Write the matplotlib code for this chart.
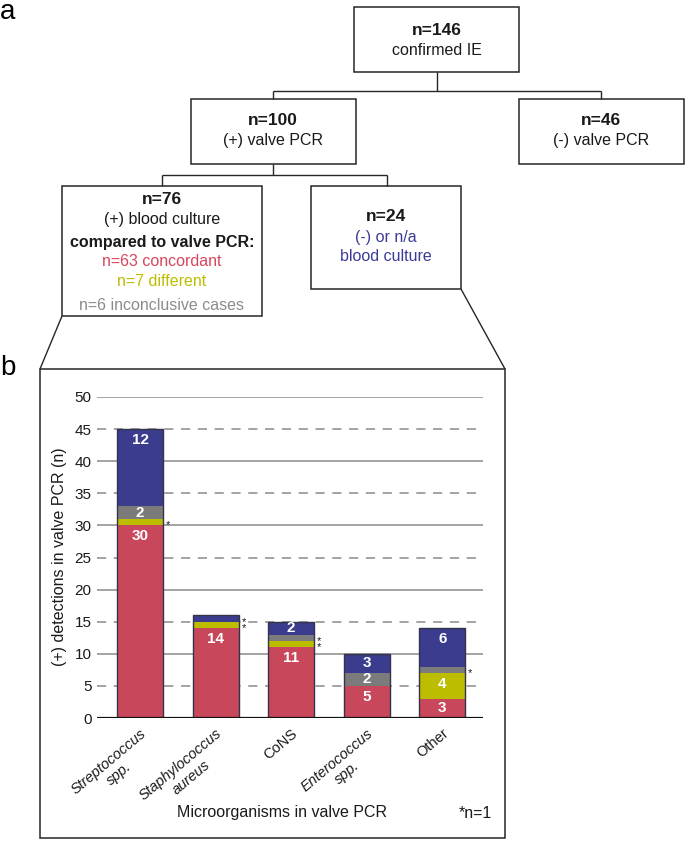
import numpy as np
import matplotlib.pyplot as plt
from matplotlib.patches import Rectangle

plt.rcParams['font.family'] = ['Liberation Sans', 'DejaVu Sans']

# panel b data
organisms = ['Streptococcus\nspp.', 'Staphylococcus\naureus', 'CoNS', 'Enterococcus\nspp.', 'Other']
italic = [True, True, False, True, False]
concordant = [30, 14, 11, 5, 3]
different = [1, 1, 1, 0, 4]
inconclusive = [2, 0, 1, 2, 1]
negative = [12, 1, 2, 3, 6]
colors = ['#C8475B', '#BDBD00', '#7B7B7B', '#3B3C8E']

# panel a counts
n_total = 146
n_pcr_pos = 100
n_pcr_neg = 46
n_bc_pos = 76
n_bc_neg = 24
n_concordant = 63
n_different = 7
n_inconclusive = 6

W, H = 685, 841
fig = plt.figure(figsize=(6.85, 8.41), dpi=100)

# overlay in pixel coordinates for the flow chart
ov = fig.add_axes([0, 0, 1, 1])
ov.set_xlim(0, W)
ov.set_ylim(H, 0)
ov.axis('off')

edge = '#262626'

def box(x0, y0, x1, y1, lw=1.1):
    ov.add_patch(Rectangle((x0, y0), x1 - x0, y1 - y0, fill=False, ec=edge, lw=lw))

def line(xs, ys):
    ov.plot(xs, ys, color=edge, lw=1.0, solid_capstyle='butt')

def txt(x, y, s, bold=False, color='#1a1a1a', size=11.5):
    ov.text(x, y, s, ha='center', va='center', fontsize=size,
            fontweight='bold' if bold else 'normal', color=color)

box(354, 7, 519, 72)
box(191, 99, 356, 164)
box(519, 99, 684, 164)
box(62, 186, 262, 316)
box(311, 186, 461, 289)

line([437, 437], [72, 91])
line([273, 601], [91, 91])
line([273, 273], [91, 99])
line([601, 601], [91, 99])
line([273, 273], [164, 175])
line([162, 387], [175, 175])
line([162, 162], [175, 186])
line([387, 387], [175, 186])

txt(437, 30, f'n={n_total}', bold=True, size=12.5)
txt(437, 50, 'confirmed IE')
txt(273, 120, f'n={n_pcr_pos}', bold=True, size=12.5)
txt(273, 140, '(+) valve PCR')
txt(601, 120, f'n={n_pcr_neg}', bold=True, size=12.5)
txt(601, 140, '(-) valve PCR')
txt(162, 199, f'n={n_bc_pos}', bold=True, size=12.5)
txt(162, 219, '(+) blood culture')
txt(162, 242, 'compared to valve PCR:', bold=True)
txt(162, 262, f'n={n_concordant} concordant', color='#D8465E')
txt(162, 282, f'n={n_different} different', color='#BDBD00')
txt(162, 305, f'n={n_inconclusive} inconclusive cases', color='#8C8C8C')
txt(386, 216, f'n={n_bc_neg}', bold=True, size=12.5)
txt(386, 237, '(-) or n/a', color='#3B3B96')
txt(386, 256, 'blood culture', color='#3B3B96')

# zoom lines and panel b frame
line([62, 40], [316, 369])
line([461, 505], [289, 369])
box(40, 369, 505, 838)

ov.text(0, 12, 'a', fontsize=20, ha='left', va='center')
ov.text(0, 368, 'b', fontsize=20, ha='left', va='center')

ov.text(60, 557, '(+) detections in valve PCR (n)', rotation=90, ha='center',
        va='center', fontsize=11.5, color='#1a1a1a')
ov.text(282, 813, 'Microorganisms in valve PCR', ha='center', va='center',
        fontsize=11.5, color='#1a1a1a')
ov.text(475, 813, '*n=1', ha='center', va='center', fontsize=11.5, color='#1a1a1a')

# bar chart
ax = fig.add_axes([97 / W, 1 - 718 / H, (483 - 97) / W, (718 - 397) / H])
ax.patch.set_alpha(0)
ax.set_ylim(0, 50)
ax.set_xlim(-0.57, 4.54)
for s in ax.spines.values():
    s.set_visible(False)

for v in range(5, 55, 5):
    if v % 10 == 0:
        ax.axhline(v, color='#8a8a8a', lw=1.1, zorder=0)
    else:
        ax.axhline(v, color='#8a8a8a', lw=1.1, zorder=0, ls=(0, (6, 5)))
ax.axhline(0, color='#111111', lw=1.6, zorder=4)

x = np.arange(len(organisms))
width = 0.61
series = [concordant, different, inconclusive, negative]
bottom = np.zeros(len(organisms))
for vals, c in zip(series, colors):
    vals = np.array(vals, dtype=float)
    ax.bar(x, vals, bottom=bottom, width=width, color=c, zorder=2, lw=0)
    for i, v in enumerate(vals):
        if v >= 2:
            y = max(bottom[i] + v / 2, bottom[i] + v - 1.7)
            ax.text(x[i], y, f'{int(v)}', ha='center', va='center', color='white',
                    fontsize=11, fontweight='bold', zorder=5)
        elif v == 1:
            ax.text(x[i] + width / 2 + 0.04, bottom[i] + 0.5 - 0.5, '*', ha='left',
                    va='center', fontsize=8, color='#1a1a1a', zorder=5)
    bottom += vals
ax.bar(x, bottom, width=width, fill=False, edgecolor='#33334a', lw=1.0, zorder=3)

ax.set_yticks(range(0, 55, 5))
ax.tick_params(axis='y', length=0, pad=4, labelsize=11, labelcolor='#1a1a1a')
ax.set_xticks(x)
ax.set_xticklabels(organisms)
ax.tick_params(axis='x', length=0, pad=6)
for lab, it in zip(ax.get_xticklabels(), italic):
    lab.set_rotation(40)
    lab.set_ha('right')
    lab.set_va('top')
    lab.set_rotation_mode('anchor')
    lab.set_multialignment('center')
    lab.set_fontsize(10.5)
    lab.set_color('#1a1a1a')
    if it:
        lab.set_style('italic')

fig.savefig('out.png', dpi=100)
